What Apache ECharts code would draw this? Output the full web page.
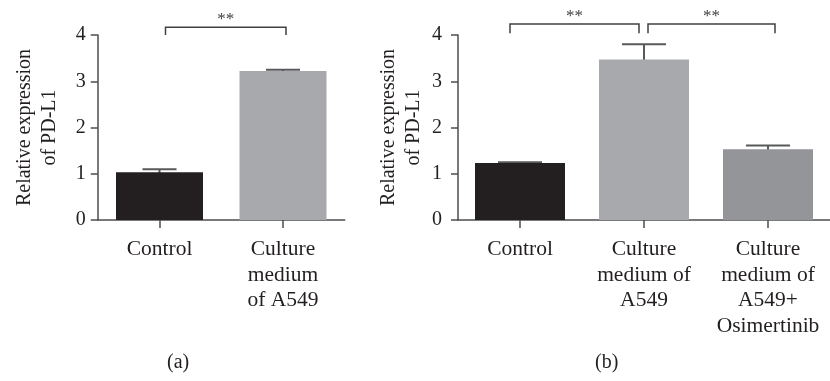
<!DOCTYPE html>
<html><head><meta charset="utf-8">
<script src="https://cdn.jsdelivr.net/npm/echarts@6/dist/echarts.min.js"></script>
<style>html,body{margin:0;padding:0;background:#fff}#c{width:830px;height:381px}</style>
</head><body><div id="c"></div>
<script>
// ---- data ----
const catsA = ['Control', 'Culture\nmedium\nof A549'];
const meansA = [1.03, 3.22];
const errsA = [0.07, 0.03];
const catsB = ['Control', 'Culture\nmedium of\nA549', 'Culture\nmedium of\nA549+\nOsimertinib'];
const meansB = [1.23, 3.47, 1.53];
const errsB = [0.02, 0.33, 0.08];
const yTicks = [0, 1, 2, 3, 4];
const yTitle = 'Relative expression\nof PD-L1';
// brackets: [from category, to category, bracket level, drop level, label]
const bracketsA = [[0, 1, 4.17, 4.0, '**']];
const bracketsB = [[0, 1, 4.24, 4.04, '**'], [1, 2, 4.24, 4.04, '**']];
const panelLabels = ['(a)', '(b)'];

// ---- style ----
const FONT = '"Liberation Serif", "DejaVu Serif", serif';
const TXT = '#231f20';
const AX = '#4d4d4f';
const colorsA = ['#231f20', '#a7a9ac'];
const colorsB = ['#231f20', '#a7a9ac', '#939598'];
const bracketOffA = [[6, 3]];
const bracketOffB = [[-10, -5], [4, 7]];

function yAxisCfg(idx, margin, gap) {
  return {
    type: 'value', gridIndex: idx, min: yTicks[0], max: yTicks[yTicks.length - 1], interval: 1,
    name: yTitle, nameLocation: 'middle', nameRotate: 90, nameGap: gap,
    nameTextStyle: { fontFamily: FONT, fontSize: 20, color: TXT, lineHeight: 25, align: 'center' },
    axisLine: { show: true, lineStyle: { color: AX, width: 1.5 } },
    axisTick: { show: true, length: 7, lineStyle: { color: AX, width: 1.5 } },
    splitLine: { show: false },
    axisLabel: { fontFamily: FONT, fontSize: 20, color: TXT, margin: margin }
  };
}
function xAxisCfg(idx, cats) {
  return {
    type: 'category', gridIndex: idx, data: cats,
    axisLine: { show: true, lineStyle: { color: AX, width: 1.5 } },
    axisTick: { show: true, alignWithLabel: true, length: 8, lineStyle: { color: AX, width: 1.5 } },
    axisLabel: { interval: 0, fontFamily: FONT, fontSize: 21.5, color: TXT, lineHeight: 25.5, margin: 17, align: 'center' }
  };
}
function errRender(capW) {
  return function (params, api) {
    const top = api.coord([api.value(0), api.value(1) + api.value(2)]);
    const base = api.coord([api.value(0), api.value(1)]);
    const st = { stroke: '#58595b', lineWidth: 2 };
    return {
      type: 'group', children: [
        { type: 'line', shape: { x1: top[0], y1: top[1], x2: base[0], y2: base[1] + 4 }, style: st },
        { type: 'line', shape: { x1: top[0] - capW / 2, y1: top[1], x2: top[0] + capW / 2, y2: top[1] }, style: st }
      ]
    };
  };
}
function bracketRender(offs) {
  return function (params, api) {
    const o = offs[params.dataIndex];
    const a = api.coord([api.value(0), api.value(2)]);
    const b = api.coord([api.value(1), api.value(2)]);
    const d = api.coord([api.value(0), api.value(3)]);
    const x0 = a[0] + o[0], x1 = b[0] + o[1];
    const st = { stroke: '#414042', lineWidth: 1.5, fill: null };
    return {
      type: 'group', children: [
        { type: 'polyline', shape: { points: [[x0, d[1]], [x0, a[1]], [x1, a[1]], [x1, d[1]]] }, style: st },
        { type: 'text', style: { text: api.value(4), x: (x0 + x1) / 2, y: a[1] + 1, align: 'center', verticalAlign: 'bottom', font: '17px ' + FONT, fill: '#414042' } }
      ]
    };
  };
}

const chart = echarts.init(document.getElementById('c'), null, { renderer: 'canvas' });
chart.setOption({
  animation: false,
  backgroundColor: '#fff',
  grid: [
    { left: 97.75, top: 35, width: 247, height: 185 },
    { left: 458, top: 35, width: 381, height: 185 }
  ],
  xAxis: [xAxisCfg(0, catsA), xAxisCfg(1, catsB)],
  yAxis: [yAxisCfg(0, 12, 36), yAxisCfg(1, 16, 32)],
  graphic: [
    { type: 'text', left: 167, top: 353, style: { text: panelLabels[0], font: '20px ' + FONT, fill: TXT } },
    { type: 'text', left: 595, top: 353, style: { text: panelLabels[1], font: '20px ' + FONT, fill: TXT } }
  ],
  series: [
    { type: 'bar', xAxisIndex: 0, yAxisIndex: 0, barWidth: 87,
      data: meansA.map((v, i) => ({ value: v, itemStyle: { color: colorsA[i] } })) },
    { type: 'bar', xAxisIndex: 1, yAxisIndex: 1, barWidth: 90,
      data: meansB.map((v, i) => ({ value: v, itemStyle: { color: colorsB[i] } })) },
    { type: 'custom', xAxisIndex: 0, yAxisIndex: 0, clip: false, renderItem: errRender(34),
      encode: { x: 0, y: 1 }, data: meansA.map((v, i) => [i, v, errsA[i]]) },
    { type: 'custom', xAxisIndex: 1, yAxisIndex: 1, clip: false, renderItem: errRender(44),
      encode: { x: 0, y: 1 }, data: meansB.map((v, i) => [i, v, errsB[i]]) },
    { type: 'custom', xAxisIndex: 0, yAxisIndex: 0, clip: false, renderItem: bracketRender(bracketOffA),
      encode: { x: 0, y: 2 }, data: bracketsA },
    { type: 'custom', xAxisIndex: 1, yAxisIndex: 1, clip: false, renderItem: bracketRender(bracketOffB),
      encode: { x: 0, y: 2 }, data: bracketsB }
  ]
});
</script>
</body></html>
